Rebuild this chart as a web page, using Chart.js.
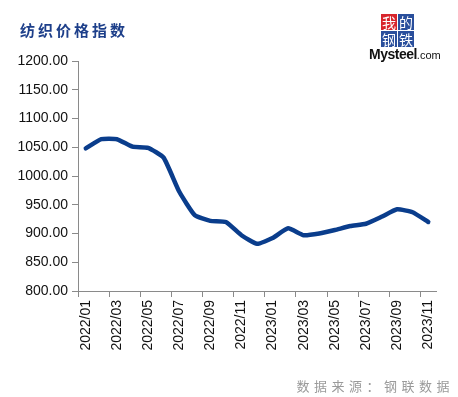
<!DOCTYPE html>
<html>
<head>
<meta charset="utf-8">
<script src="https://cdn.jsdelivr.net/npm/chart.js@4.4.0/dist/chart.umd.min.js"></script>
<style>
  html, body { margin: 0; padding: 0; background: #fff; }
  #wrap { position: relative; width: 458px; height: 397px; overflow: hidden; }
  #chart { position: absolute; left: 0; top: 0; }
  .title {
    position: absolute; left: 20px; top: 19px;
    font-family: "Noto Sans CJK SC", sans-serif; font-weight: bold;
    font-size: 15px; letter-spacing: 3px; color: #1d3f8a;
  }
  .source {
    position: absolute; right: 4px; top: 376px;
    font-family: "Noto Sans CJK SC", sans-serif;
    font-size: 13px; letter-spacing: 4.5px; color: #9a9a9a;
  }
  .logo { position: absolute; left: 369px; top: 14px; width: 82px; }
  .logo .grid { margin-left: 12px; width: 34px; display: flex; flex-wrap: wrap; }
  .logo .grid span {
    width: 16px; height: 16px; margin: 0 1px 1px 0; display: block;
    font-family: "Noto Sans CJK SC", sans-serif; font-size: 14px; line-height: 16px;
    text-align: center; color: #fff; background: #2a4f9c;
  }
  .logo .grid span.red { background: #d8252c; }
  .logo .brand { font-family: "Liberation Sans", sans-serif; color: #111; line-height: 14px; margin-top: -1px; white-space: nowrap; }
  .logo .brand b { font-size: 14px; letter-spacing: -0.5px; }
  .logo .brand small { font-size: 11px; }
</style>
</head>
<body>
<div id="wrap">
  <canvas id="chart" width="458" height="397"></canvas>
  <div class="title">纺织价格指数</div>
  <div class="logo">
    <div class="grid"><span class="red">我</span><span>的</span><span>钢</span><span>铁</span></div>
    <div class="brand"><b>Mysteel</b><small>.com</small></div>
  </div>
  <div class="source">数据来源：钢联数据</div>
</div>
<script>
// Données du graphique
const months = ['2022/01', '2022/02', '2022/03', '2022/04', '2022/05', '2022/06', '2022/07', '2022/08',
    '2022/09', '2022/10', '2022/11', '2022/12', '2023/01', '2023/02', '2023/03', '2023/04',
    '2023/05', '2023/06', '2023/07', '2023/08', '2023/09', '2023/10', '2023/11'];
const textileIndex = [1048, 1064, 1064, 1051, 1049, 1032, 973, 932, 922, 920, 897, 882,
    892, 909, 897, 900, 906, 913, 917, 929, 942, 937, 920];
const yMin = 800;
const yMax = 1200;
const yStep = 50;

const axisColor = '#8a8a8a';
const tickFont = { family: 'Liberation Sans', size: 14 };

new Chart(document.getElementById('chart'), {
    type: 'line',
    data: {
        labels: months,
        datasets: [{
            label: '纺织价格指数',
            data: textileIndex,
            borderColor: '#0a3d8c',
            borderWidth: 4.5,
            tension: 0.15,
            borderCapStyle: 'round',
            borderJoinStyle: 'round',
            pointRadius: 0,
            fill: false
        }]
    },
    options: {
        responsive: false,
        animation: false,
        layout: { padding: { top: 61, right: 22, bottom: 0, left: 0 } },
        plugins: {
            legend: { display: false },
            tooltip: { enabled: false }
        },
        scales: {
            x: {
                offset: true,
                afterFit: function(scale) { scale.height = 106; },
                grid: {
                    offset: true,
                    drawOnChartArea: false,
                    tickLength: 6,
                    color: function(ctx) {
                        return ctx.index % 2 === 0 ? axisColor : 'rgba(0,0,0,0)';
                    }
                },
                border: { color: axisColor },
                ticks: {
                    autoSkip: false,
                    minRotation: 90,
                    maxRotation: 90,
                    padding: 3,
                    color: '#111',
                    font: tickFont,
                    callback: function(value, index) {
                        return index % 2 === 0 ? this.getLabelForValue(value) : '';
                    }
                }
            },
            y: {
                min: yMin,
                max: yMax,
                afterFit: function(scale) { scale.width = 78; },
                grid: { drawOnChartArea: false, tickLength: 6, color: axisColor },
                border: { color: axisColor },
                ticks: {
                    stepSize: yStep,
                    padding: 4,
                    color: '#111',
                    font: tickFont,
                    callback: function(value) { return value.toFixed(2); }
                }
            }
        }
    }
});
</script>
</body>
</html>
